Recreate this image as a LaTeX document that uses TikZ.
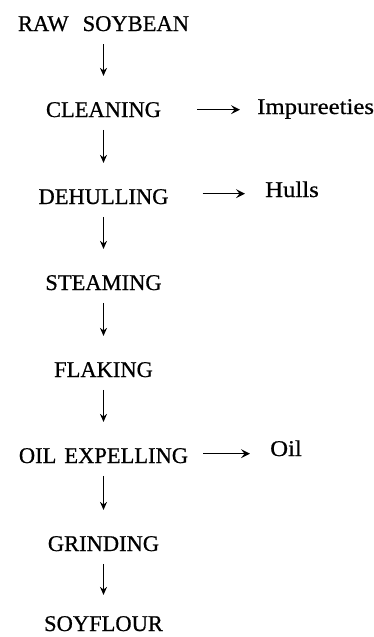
\documentclass[tikz,border=0pt]{standalone}
\usepackage{fontspec}
\setmainfont[FakeBold=0.7]{Liberation Serif}
\newfontfamily\sidefont[FakeStretch=1.1,FakeBold=0.7]{Liberation Serif}
\usetikzlibrary{arrows.meta}
\tikzset{
  stage/.style={anchor=base, inner sep=0pt, font=\fontsize{22.5}{27}\selectfont},
  output/.style={anchor=base west, inner sep=0pt, font=\sidefont\fontsize{22.5}{27}\selectfont},
  down/.style={-{Stealth[length=8pt,width=7pt]}, line width=1.1pt,
               shorten <=12.5pt, shorten >=26pt},
  side/.style={-{Stealth[length=9pt,width=9pt,inset=3.5pt]}, line width=1.5pt}
}
\begin{document}
\begin{tikzpicture}[x=1pt,y=-1pt]
  \useasboundingbox (0,0) rectangle (373,637);
  % main process column
  \node[stage] (raw)   at (103.5,31)  {RAW\hspace{14pt}SOYBEAN};
  \node[stage] (clean) at (103.5,117) {CLEANING};
  \node[stage] (dehul) at (103.5,204) {DEHULLING};
  \node[stage] (steam) at (103.5,290) {STEAMING};
  \node[stage] (flake) at (103.5,377) {FLAKING};
  \node[stage] (expel) at (103.5,463) {OIL\hspace{8pt}EXPELLING};
  \node[stage] (grind) at (103.5,551) {GRINDING};
  \node[stage] (flour) at (103.5,631) {SOYFLOUR};
  % by-products
  \node[output] (imp)   at (257,114) {Impureeties};
  \node[output] (hulls) at (265,197) {Hulls};
  \node[output] (oil)   at (270,456) {Oil};
  % flow arrows
  \draw[down] (raw.south)   -- (clean.north);
  \draw[down] (clean.south) -- (dehul.north);
  \draw[down] (dehul.south) -- (steam.north);
  \draw[down] (steam.south) -- (flake.north);
  \draw[down] (flake.south) -- (expel.north);
  \draw[down] (expel.south) -- (grind.north);
  \draw[down, shorten >=21pt] (grind.south) -- (flour.north);
  % by-product arrows
  \draw[side] ([xshift=36pt]clean.east) -- ([xshift=-17pt]imp.west |- clean.east);
  \draw[side] ([xshift=34pt,yshift=3pt]dehul.east) -- ([xshift=-20pt,yshift=3pt]hulls.west |- dehul.east);
  \draw[side] ([xshift=15pt,yshift=2pt]expel.east) -- ([xshift=-20pt,yshift=2pt]oil.west |- expel.east);
\end{tikzpicture}
\end{document}
